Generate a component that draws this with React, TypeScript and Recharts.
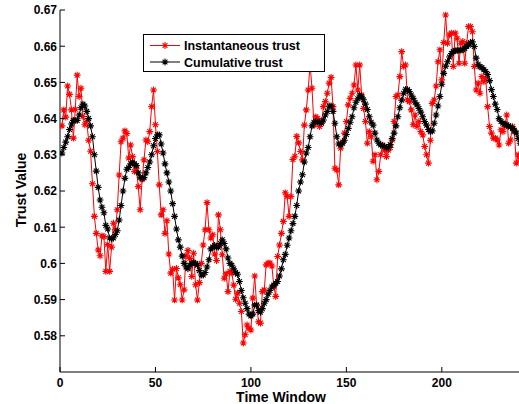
import React from "react";
import { LineChart, Line, XAxis, YAxis } from "recharts";

// Instantaneous trust (red), time windows 1..241
const instantaneous: number[] = [
  0.638, 0.6424, 0.6404, 0.649, 0.6467, 0.6424, 0.6346, 0.6426, 0.652, 0.6461,
  0.6484, 0.6406, 0.6383, 0.6392, 0.634, 0.631, 0.622, 0.613, 0.6083, 0.6037,
  0.6021, 0.6076, 0.6074, 0.5978, 0.6052, 0.5978, 0.6045, 0.6111, 0.6093, 0.6148,
  0.6244, 0.6336, 0.6346, 0.6366, 0.6359, 0.6291, 0.6327, 0.6295, 0.6254, 0.6263,
  0.6212, 0.6148, 0.6231, 0.6286, 0.6341, 0.6336, 0.6364, 0.6433, 0.6479, 0.6383,
  0.6309, 0.6217, 0.6134, 0.6148, 0.6083, 0.6118, 0.6026, 0.5973, 0.5984, 0.5899,
  0.5986, 0.596, 0.5941, 0.5899, 0.5927, 0.6021, 0.6036, 0.6014, 0.5964, 0.6028,
  0.5941, 0.5899, 0.5947, 0.6, 0.6051, 0.6093, 0.6168, 0.6093, 0.607, 0.6079,
  0.6026, 0.6008, 0.6134, 0.6093, 0.6024, 0.5959, 0.5971, 0.5922, 0.5978, 0.5973,
  0.594, 0.5901, 0.5918, 0.589, 0.5867, 0.578, 0.5803, 0.583, 0.5821, 0.5816,
  0.5904, 0.5965, 0.5885, 0.5839, 0.5835, 0.5922, 0.5927, 0.5996, 0.6001, 0.6001,
  0.5993, 0.5936, 0.5909, 0.6019, 0.6051, 0.6083, 0.6116, 0.6195, 0.6185, 0.613,
  0.6185, 0.6287, 0.6296, 0.6351, 0.6333, 0.6309, 0.6286, 0.6382, 0.6424, 0.6479,
  0.655, 0.6484, 0.6382, 0.6405, 0.64, 0.6378, 0.6387, 0.6433, 0.6447, 0.647,
  0.6498, 0.6514, 0.6433, 0.6263, 0.6258, 0.6217, 0.6318, 0.6335, 0.636, 0.6392,
  0.6438, 0.6456, 0.647, 0.6493, 0.6548, 0.6479, 0.6548, 0.6465, 0.6428, 0.6392,
  0.6332, 0.6364, 0.635, 0.6282, 0.63, 0.6231, 0.6254, 0.63, 0.6327, 0.6313,
  0.6295, 0.6313, 0.632, 0.6341, 0.6392, 0.6461, 0.6465, 0.6516, 0.6585, 0.6544,
  0.6548, 0.6452, 0.6447, 0.6424, 0.6383, 0.641, 0.6378, 0.6392, 0.6364, 0.6355,
  0.6323, 0.63, 0.6277, 0.634, 0.6442, 0.6452, 0.649, 0.6557, 0.659, 0.6507,
  0.661, 0.6686, 0.6608, 0.6631, 0.6636, 0.6544, 0.6636, 0.6622, 0.6553, 0.6608,
  0.6613, 0.6553, 0.6608, 0.6654, 0.6654, 0.664, 0.6544, 0.6479, 0.6498, 0.647,
  0.6516, 0.6502, 0.6511, 0.6433, 0.6378, 0.636, 0.6346, 0.6346, 0.6341, 0.6327,
  0.6369, 0.6364, 0.6378, 0.641, 0.6332, 0.6341, 0.6378, 0.6364, 0.6277, 0.63,
  0.6285,
];

// Cumulative trust (black), time windows 1..241
const cumulative: number[] = [
  0.6305, 0.632, 0.6335, 0.635, 0.637, 0.6385, 0.6395, 0.6395, 0.6395, 0.641,
  0.643, 0.644, 0.6435, 0.642, 0.64, 0.638, 0.635, 0.63, 0.6255, 0.621,
  0.6175, 0.6155, 0.614, 0.6105, 0.6095, 0.607, 0.6068, 0.607, 0.608, 0.609,
  0.612, 0.616, 0.62, 0.6235, 0.626, 0.6265, 0.6275, 0.628, 0.6275, 0.627,
  0.625, 0.6238, 0.6235, 0.6237, 0.625, 0.6265, 0.628, 0.63, 0.6325, 0.6345,
  0.6355, 0.6355, 0.633, 0.6305, 0.6275, 0.625, 0.6225, 0.62, 0.6165, 0.613,
  0.6095, 0.6065, 0.6045, 0.602, 0.6, 0.599, 0.5985, 0.5995, 0.6, 0.6003,
  0.6, 0.5995, 0.598, 0.5968, 0.5968, 0.5975, 0.599, 0.601, 0.604, 0.6045,
  0.605, 0.6045, 0.6045, 0.6055, 0.6065, 0.6055, 0.604, 0.6015, 0.6, 0.5995,
  0.5985, 0.5975, 0.597, 0.595, 0.5925, 0.5905, 0.589, 0.5875, 0.586, 0.5855,
  0.586, 0.5885, 0.5885, 0.587, 0.5865, 0.5875, 0.589, 0.59, 0.5915, 0.5925,
  0.5935, 0.594, 0.5945, 0.595, 0.5965, 0.5985, 0.601, 0.6025, 0.605, 0.607,
  0.609, 0.611, 0.613, 0.616, 0.62, 0.6225, 0.6245, 0.628, 0.6305, 0.632,
  0.635, 0.638, 0.639, 0.6392, 0.639, 0.639, 0.6388, 0.6396, 0.641, 0.642,
  0.6435, 0.6435, 0.642, 0.6387, 0.635, 0.633, 0.6327, 0.6332, 0.634, 0.6356,
  0.6373, 0.639, 0.6405, 0.643, 0.6445, 0.6455, 0.6465, 0.646, 0.6452, 0.644,
  0.6425, 0.6405, 0.639, 0.6382, 0.636, 0.6341, 0.6332, 0.6327, 0.6325, 0.6323,
  0.632, 0.632, 0.6328, 0.6345, 0.636, 0.638, 0.6405, 0.643, 0.6451, 0.647,
  0.6481, 0.648, 0.6475, 0.6465, 0.6456, 0.6445, 0.6438, 0.6428, 0.6418, 0.6405,
  0.6392, 0.6382, 0.637, 0.6364, 0.6366, 0.6387, 0.641, 0.6435, 0.6461, 0.6495,
  0.6525, 0.6545, 0.6557, 0.657, 0.658, 0.6585, 0.6588, 0.6588, 0.6589, 0.6589,
  0.659, 0.6594, 0.66, 0.6603, 0.661, 0.6612, 0.6599, 0.6567, 0.655, 0.6543,
  0.6541, 0.6535, 0.653, 0.6522, 0.6505, 0.648, 0.6461, 0.644, 0.6425, 0.64,
  0.6392, 0.6387, 0.6385, 0.6382, 0.638, 0.6377, 0.6373, 0.6368, 0.636, 0.6345,
  0.6332,
];

const timeWindows: number[] = instantaneous.map((_, i) => i + 1);
const xTicks: number[] = [0, 50, 100, 150, 200];
const yTicks: number[] = [0.58, 0.59, 0.6, 0.61, 0.62, 0.63, 0.64, 0.65, 0.66, 0.67];
const seriesNames = ["Instantaneous trust", "Cumulative trust"];

const data = timeWindows.map((t, i) => ({ t, inst: instantaneous[i], cum: cumulative[i] }));

const FONT = "'Liberation Sans', Arial, Helvetica, sans-serif";
const fmt = (v: number) => `${+Number(v).toFixed(2)}`;

const starPath = (cx: number, cy: number, r: number) => {
  const d = r * 0.7071;
  return `M${cx - r},${cy}H${cx + r}M${cx},${cy - r}V${cy + r}M${cx - d},${cy - d}L${cx + d},${cy + d}M${cx - d},${cy + d}L${cx + d},${cy - d}`;
};

const STAR_R = 3.4;

const makeDot = (color: string) => (p: any) => {
  if (p.cx == null || p.cy == null) return <g key={`e-${color}-${p.index}`} />;
  return (
    <path key={`d-${color}-${p.index}`} d={starPath(p.cx, p.cy, STAR_R)} stroke={color} strokeWidth={1.1} fill="none" />
  );
};

const LEFT_MARGIN = 3;
const BOTTOM_MARGIN = 7;
const TICK_LEN = 5;

const YLeftTick = (p: any) => {
  const ax = p.x + LEFT_MARGIN;
  return (
    <g>
      <line x1={ax} x2={ax + TICK_LEN} y1={p.y} y2={p.y} stroke="#000" strokeWidth={1} />
      <text x={p.x} y={p.y + 4.3} textAnchor="end" fontFamily={FONT} fontWeight="bold" fontSize={12} fill="#000">
        {fmt(p.payload.value)}
      </text>
    </g>
  );
};

const XBottomTick = (p: any) => {
  const ay = p.y - BOTTOM_MARGIN;
  return (
    <g>
      <line x1={p.x} x2={p.x} y1={ay} y2={ay - TICK_LEN} stroke="#000" strokeWidth={1} />
      <text x={p.x} y={p.y + 7.5} textAnchor="middle" fontFamily={FONT} fontWeight="bold" fontSize={12} fill="#000">
        {p.payload.value}
      </text>
    </g>
  );
};

const XTopTick = (p: any) => (
  <line x1={p.x} x2={p.x} y1={p.y} y2={p.y + TICK_LEN} stroke="#000" strokeWidth={1} />
);

const YRightTick = (p: any) => (
  <line x1={p.x - TICK_LEN} x2={p.x} y1={p.y} y2={p.y} stroke="#000" strokeWidth={1} />
);

export default function App() {
  return (
    <div
      style={{
        position: "fixed",
        left: 0,
        top: 0,
        width: 519,
        height: 404,
        overflow: "hidden",
        background: "#fff",
      }}
    >
      <LineChart width={530} height={404} data={data} margin={{ top: 10, right: 8, bottom: 0, left: 0 }}>
        <XAxis
          dataKey="t"
          type="number"
          domain={[0, 242]}
          ticks={xTicks}
          interval={0}
          allowDataOverflow
          height={32}
          tickSize={0}
          tickMargin={BOTTOM_MARGIN}
          tickLine={false}
          axisLine={{ stroke: "#000", strokeWidth: 1 }}
          tick={XBottomTick}
        />
        <XAxis
          xAxisId="top"
          orientation="top"
          dataKey="t"
          type="number"
          domain={[0, 242]}
          ticks={xTicks}
          interval={0}
          allowDataOverflow
          height={0}
          tickSize={0}
          tickMargin={0}
          tickLine={false}
          axisLine={{ stroke: "#000", strokeWidth: 1 }}
          tick={XTopTick}
        />
        <YAxis
          type="number"
          domain={[0.57, 0.67]}
          ticks={yTicks}
          interval={0}
          allowDataOverflow
          width={60}
          tickSize={0}
          tickMargin={LEFT_MARGIN}
          tickLine={false}
          axisLine={{ stroke: "#000", strokeWidth: 1 }}
          tick={YLeftTick}
        />
        <YAxis
          yAxisId="right"
          orientation="right"
          type="number"
          domain={[0.57, 0.67]}
          ticks={yTicks}
          interval={0}
          allowDataOverflow
          width={0}
          tickSize={0}
          tickMargin={0}
          tickLine={false}
          axisLine={{ stroke: "#000", strokeWidth: 1 }}
          tick={YRightTick}
        />
        <Line
          dataKey="inst"
          name={seriesNames[0]}
          stroke="#ff0000"
          strokeWidth={1}
          dot={makeDot("#ff0000")}
          activeDot={false}
          isAnimationActive={false}
        />
        <Line
          dataKey="cum"
          name={seriesNames[1]}
          stroke="#000000"
          strokeWidth={1}
          dot={makeDot("#000000")}
          activeDot={false}
          isAnimationActive={false}
        />
      </LineChart>
      <svg
        width={519}
        height={404}
        style={{ position: "absolute", left: 0, top: 0, pointerEvents: "none" }}
      >
        <rect x={143.5} y={34.5} width={181} height={37} fill="#fff" stroke="#000" strokeWidth={1} />
        <line x1={150} x2={180} y1={45.5} y2={45.5} stroke="#ff0000" strokeWidth={1} />
        <path d={starPath(165, 45.5, STAR_R)} stroke="#ff0000" strokeWidth={1.1} fill="none" />
        <text x={184} y={50} fontFamily={FONT} fontWeight="bold" fontSize={12.5} fill="#000">
          {seriesNames[0]}
        </text>
        <line x1={150} x2={180} y1={62} y2={62} stroke="#000" strokeWidth={1} />
        <path d={starPath(165, 62, STAR_R)} stroke="#000" strokeWidth={1.1} fill="none" />
        <text x={184} y={66.5} fontFamily={FONT} fontWeight="bold" fontSize={12.5} fill="#000">
          {seriesNames[1]}
        </text>
        <text x={281} y={402} textAnchor="middle" fontFamily={FONT} fontWeight="bold" fontSize={14} fill="#000">
          Time Window
        </text>
        <text
          transform="translate(25.5,190) rotate(-90)"
          textAnchor="middle"
          fontFamily={FONT}
          fontWeight="bold"
          fontSize={14}
          fill="#000"
        >
          Trust Value
        </text>
      </svg>
    </div>
  );
}
